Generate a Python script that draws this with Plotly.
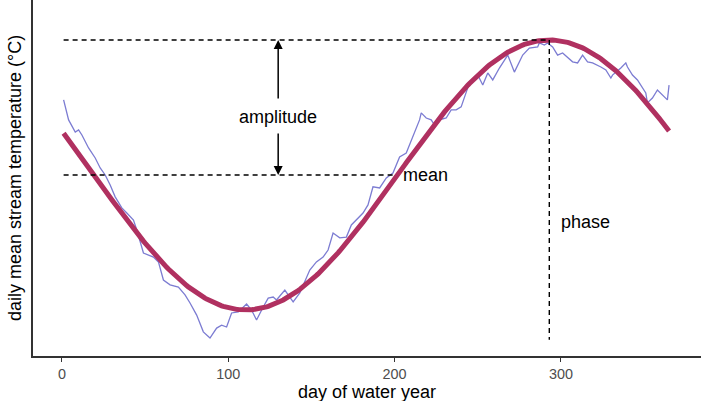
import numpy as np
import plotly.graph_objects as go

day = [1, 4, 8, 10, 12, 16, 20, 23, 26, 29, 32, 36, 39, 43, 45, 49, 55, 58, 61, 65,
       70, 74, 77, 81, 85, 89, 93, 96, 99, 102, 106, 111, 114, 117, 121, 124, 127, 129,
       134, 139, 143, 149, 153, 157, 160, 163, 167, 171, 174, 177, 181, 184, 187, 191,
       195, 199, 203, 207, 210, 212, 215, 216, 219, 222, 224, 227, 231, 234, 237, 240,
       243, 245, 248, 250, 253, 256, 259, 263, 268, 272, 277, 281, 286, 287, 290, 292,
       295, 298, 301, 304, 307, 310, 313, 316, 319, 324, 327, 330, 331, 336, 339, 340,
       343, 346, 348, 351, 352, 355, 358, 361, 364, 365]
temp = [12.78, 12.04, 11.59, 11.67, 11.48, 11.00, 10.63, 10.26, 10.00, 9.63, 9.19, 8.78,
        8.59, 8.33, 7.96, 7.11, 6.96, 6.78, 6.11, 5.93, 5.85, 5.56, 5.26, 4.81, 4.19, 3.96,
        4.33, 4.44, 4.37, 4.89, 4.93, 5.22, 5.00, 4.63, 5.11, 5.44, 5.48, 5.37, 5.74, 5.30,
        5.63, 6.48, 6.78, 6.96, 7.22, 7.85, 7.67, 7.70, 8.15, 8.33, 8.59, 8.89, 9.56, 9.52,
        9.89, 10.07, 10.67, 10.81, 11.30, 11.56, 12.04, 12.30, 12.11, 12.04, 11.85, 12.04,
        12.11, 12.41, 12.41, 12.52, 13.07, 13.41, 13.52, 13.70, 13.33, 13.78, 13.52, 13.96,
        14.44, 13.81, 14.44, 14.70, 14.74, 14.89, 14.81, 14.89, 14.74, 14.44, 14.52, 14.37,
        14.19, 14.15, 14.44, 14.19, 14.15, 14.00, 13.89, 13.59, 13.70, 13.96, 14.15, 14.00,
        13.70, 13.52, 13.33, 13.04, 12.67, 12.85, 13.15, 12.96, 12.78, 13.33]

# Fitted sinusoid parameters
fit_mean = 10.0
fit_amplitude = 5.0
fit_phase = 293.0
period = 365.0

x_ticks = [0, 100, 200, 300]
arrow_day = 130
mean_line_end = 200
phase_line_bottom = 3.9

fit_days = np.arange(1, 366)
fit_temp = fit_mean + fit_amplitude * np.cos(2 * np.pi * (fit_days - fit_phase) / period)

FONT = "Liberation Sans, Arial, sans-serif"
dash = "5px,4px"

fig = go.Figure()
fig.add_trace(go.Scatter(x=day, y=temp, mode="lines",
                         line=dict(color="#7C7CD2", width=1.3), hoverinfo="skip"))
fig.add_trace(go.Scatter(x=fit_days, y=fit_temp, mode="lines",
                         line=dict(color="#B03060", width=5), hoverinfo="skip"))

# dashed reference lines
fig.add_trace(go.Scatter(x=[1, fit_phase], y=[fit_mean + fit_amplitude] * 2, mode="lines",
                         line=dict(color="black", width=1.4, dash=dash), hoverinfo="skip"))
fig.add_trace(go.Scatter(x=[1, mean_line_end], y=[fit_mean] * 2, mode="lines",
                         line=dict(color="black", width=1.4, dash=dash), hoverinfo="skip"))
fig.add_trace(go.Scatter(x=[fit_phase, fit_phase], y=[fit_mean + fit_amplitude, phase_line_bottom],
                         mode="lines", line=dict(color="black", width=1.4, dash=dash),
                         hoverinfo="skip"))

# arrows
fig.add_annotation(x=arrow_day, y=fit_mean + fit_amplitude, ax=arrow_day, ay=12.78,
                   xref="x", yref="y", axref="x", ayref="y", text="", showarrow=True,
                   arrowhead=2, arrowsize=1.2, arrowwidth=1.5, arrowcolor="black")
fig.add_annotation(x=arrow_day, y=fit_mean, ax=arrow_day, ay=11.59,
                   xref="x", yref="y", axref="x", ayref="y", text="", showarrow=True,
                   arrowhead=2, arrowsize=1.2, arrowwidth=1.5, arrowcolor="black")

fig.add_annotation(x=arrow_day, y=12.15, text="amplitude", showarrow=False,
                   font=dict(family=FONT, size=18, color="black"), xanchor="center", yanchor="middle")
fig.add_annotation(x=mean_line_end + 4, y=fit_mean, text="mean", showarrow=False,
                   font=dict(family=FONT, size=18, color="black"), xanchor="left", yanchor="middle")
fig.add_annotation(x=fit_phase + 6, y=8.26, text="phase", showarrow=False,
                   font=dict(family=FONT, size=18, color="black"), xanchor="left", yanchor="middle")

# axis titles
fig.add_annotation(x=0.5, y=0, xref="paper", yref="paper", yshift=-36,
                   text="day of water year", showarrow=False,
                   font=dict(family=FONT, size=18, color="black"),
                   xanchor="center", yanchor="middle")
fig.add_annotation(x=0, y=0.5, xref="paper", yref="paper", xshift=-18,
                   text="daily mean stream temperature (°C)", showarrow=False, textangle=-90,
                   font=dict(family=FONT, size=18, color="black"),
                   xanchor="center", yanchor="middle")

fig.update_layout(
    width=701, height=401, autosize=False,
    margin=dict(l=33, r=0, t=0, b=45, autoexpand=False),
    plot_bgcolor="white", paper_bgcolor="white",
    showlegend=False,
    font=dict(family=FONT, size=18, color="black"),
    xaxis=dict(range=[-17.4, 384.2], tickvals=x_ticks, ticks="outside", ticklen=4,
               tickcolor="#333333", tickwidth=1.2, automargin=False,
               tickfont=dict(family=FONT, size=14.4, color="#4D4D4D"),
               showline=True, linecolor="#333333", linewidth=1.5, showgrid=False,
               zeroline=False),
    yaxis=dict(range=[3.296, 16.48], showticklabels=False, ticks="", showline=True,
               linecolor="#333333", linewidth=1.5, showgrid=False, zeroline=False,
               automargin=False),
)

fig.write_html("out.html", config={"displayModeBar": False},
               post_script="document.body.style.margin='0';document.body.style.overflow='hidden';")
